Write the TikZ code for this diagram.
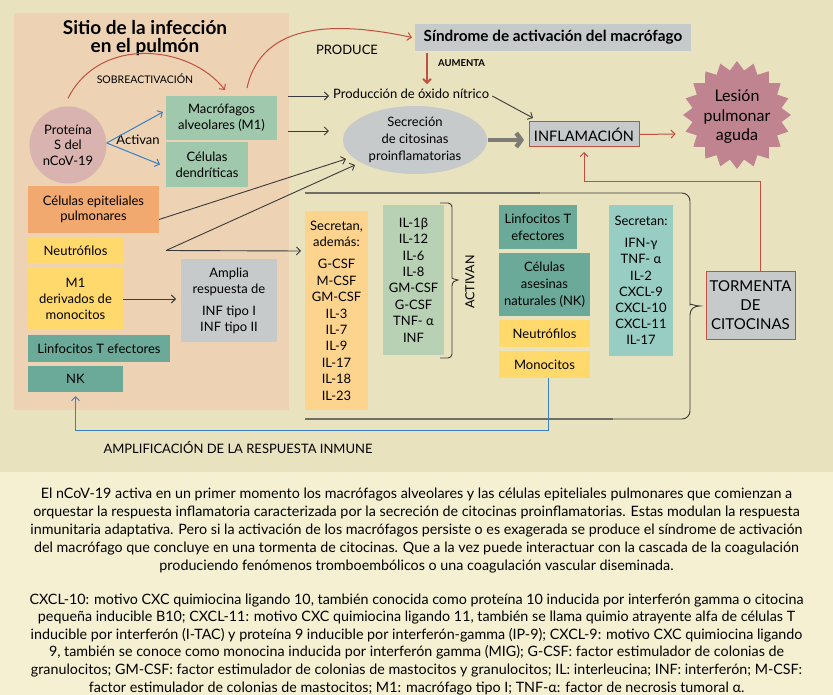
\documentclass[tikz,border=0pt]{standalone}
\usepackage{fontspec}
\setmainfont{Lato}
\usetikzlibrary{arrows.meta,shapes.geometric,calc}
\newcommand\fsz[2]{\fontsize{#1}{#2}\selectfont}
\definecolor{bgtop}{HTML}{E8E2BF}
\definecolor{bgbot}{HTML}{F5F0D1}
\definecolor{panelc}{HTML}{EDD3B3}
\definecolor{circc}{HTML}{D9B3AF}
\definecolor{greenc}{HTML}{9FC8AD}
\definecolor{orangec}{HTML}{F2A96F}
\definecolor{yellowc}{HTML}{FFD96B}
\definecolor{tealc}{HTML}{6BAA98}
\definecolor{grayc}{HTML}{C7CACA}
\definecolor{lorange}{HTML}{FDD48E}
\definecolor{lgreen}{HTML}{B8D0B4}
\definecolor{lteal}{HTML}{98CDC4}
\definecolor{starc}{HTML}{C08491}
\definecolor{redc}{HTML}{C0503F}
\definecolor{bluec}{HTML}{3B7FC4}
\definecolor{darkc}{HTML}{3A3A3A}
\definecolor{thickgray}{HTML}{6E6E66}
\begin{document}
\begin{tikzpicture}[x=1pt,y=-1pt,
  rect/.style={anchor=north west, inner sep=0pt, outer sep=0pt, align=center, font=\fsz{13}{16}},
  lbl/.style={inner sep=0pt, font=\fsz{13}{16}},
  tip/.style={-{Straight Barb[length=4pt,width=8pt]}},
  darr/.style={tip, darkc, line width=0.9pt},
  rarr/.style={tip, redc, line width=1pt},
  barr/.style={tip, bluec, line width=1pt}]
\useasboundingbox (0,0) rectangle (833,695);
\fill[bgtop] (0,0) rectangle (833,472);
\fill[bgbot] (0,472) rectangle (833,695);

% left panel
\node[rect, fill=panelc, minimum width=275, minimum height=397] (panel) at (14,13) {};
\node[font=\bfseries\fsz{19}{18.5}, align=center, inner sep=0pt] (title) at (145,38) {Sitio de la infección\\en el pulmón};
\node[circle, fill=circc, minimum size=77, inner sep=0pt, align=center, font=\fsz{13}{15.5}] (prot) at (68,145) {Proteína\\S del\\nCoV-19};
\node[rect, fill=greenc, minimum width=111, minimum height=44] (maf) at (166,96) {Macrófagos\\alveolares (M1)};
\node[rect, fill=greenc, minimum width=82, minimum height=45] (dend) at (166,142) {Células\\dendríticas};
\node[rect, fill=orangec, minimum width=131, minimum height=47, font=\fsz{13}{15.5}] (epi) at (28,186) {Células epiteliales\\pulmonares};
\node[rect, fill=yellowc, minimum width=95, minimum height=25] (neu1) at (28,238) {Neutrófilos};
\node[rect, fill=yellowc, minimum width=95, minimum height=62] (m1) at (28,268) {M1\\derivados de\\monocitos};
\node[rect, fill=tealc, minimum width=142, minimum height=27] (lin1) at (28,335) {Linfocitos T efectores};
\node[rect, fill=tealc, minimum width=95, minimum height=26] (nk) at (28,366) {NK};
\node[rect, fill=grayc, minimum width=96, minimum height=83] (amp) at (181,259) {Amplia\\respuesta de\\[6pt]INF tipo I\\INF tipo II};
\node[lbl, font=\fsz{10.5}{12}] (sobre) at (145,79) {SOBREACTIVACIÓN};
\node[lbl] (activan) at (138,140) {Activan};

% top right
\node[rect, fill=grayc, minimum width=276, minimum height=27, font=\bfseries\fsz{15.3}{16}] (sin) at (415,24) {Síndrome de activación del macrófago};
\node[lbl] (produce) at (347,50) {PRODUCE};
\node[lbl, anchor=west, font=\bfseries\fsz{9.5}{11}] (aumenta) at (438,63) {AUMENTA};
\node[anchor=base west, inner sep=1pt, font=\fsz{13}{16}] (oxi) at (332,99) {Producción de óxido nítrico};
\node[ellipse, fill=grayc, minimum width=144, minimum height=68, inner sep=0pt, align=center, font=\fsz{13}{17}] (ell) at (415,140) {Secreción\\de citosinas\\proinflamatorias};
\node[rect, fill=grayc, draw=redc, line width=1pt, minimum width=110, minimum height=25, font=\fsz{14.5}{16}] (infl) at (529,122) {INFLAMACIÓN};
\node[star, star points=20, star point ratio=1.2, fill=starc, minimum size=108, inner sep=0pt] (star) at (737,115) {};
\node[align=center, inner sep=0pt, font=\fsz{16}{19.5}] (lesion) at (737,117) {Lesión\\pulmonar\\aguda};

% cytokine area
\node[rect, fill=lorange, minimum width=63, minimum height=199, font=\fsz{13}{16.4}] (secr) at (305,211) {Secretan,\\además:\\[6pt]G-CSF\\M-CSF\\GM-CSF\\IL-3\\IL-7\\IL-9\\IL-17\\IL-18\\IL-23};
\node[rect, fill=lgreen, minimum width=61, minimum height=150, font=\fsz{13}{16.4}] (il) at (383,205) {IL-1β\\IL-12\\IL-6\\IL-8\\GM-CSF\\G-CSF\\TNF- α\\INF};
\node[rotate=90, inner sep=0pt, font=\fsz{12.5}{14}] (act) at (470,282) {ACTIVAN};
\node[rect, fill=tealc, minimum width=78, minimum height=44, font=\fsz{13}{17}] (lin2) at (499,205) {Linfocitos T\\efectores};
\node[rect, fill=tealc, minimum width=91, minimum height=63, font=\fsz{13}{17}] (nk2) at (499,253) {Células\\asesinas\\naturales (NK)};
\node[rect, fill=yellowc, minimum width=91, minimum height=27] (neu2) at (499,320) {Neutrófilos};
\node[rect, fill=yellowc, minimum width=91, minimum height=27] (mono) at (499,351) {Monocitos};
\node[rect, fill=lteal, minimum width=64, minimum height=151, font=\fsz{13}{16.2}] (sec2) at (609,205) {Secretan:\\[6pt]IFN-γ\\TNF- α\\IL-2\\CXCL-9\\CXCL-10\\CXCL-11\\IL-17};
\node[rect, fill=grayc, draw=redc, line width=1pt, minimum width=89, minimum height=67, font=\fsz{15}{19}] (torm) at (706,272) {TORMENTA\\DE\\CITOCINAS};
\node[lbl] (ampl) at (238,448) {AMPLIFICACIÓN DE LA RESPUESTA INMUNE};

% braces
\draw[darkc, line width=0.9pt, rounded corners=8pt] (305,193) -- (690,193) -- (690,297) [rounded corners=0pt] .. controls (690,303) and (694,306) .. (700,306) .. controls (694,306) and (690,309) .. (690,315) [rounded corners=8pt] -- (690,419) -- (305,419);
\draw[thickgray, line width=2.5pt] (305,193) -- (540,193);
\draw[thickgray, line width=2.5pt] (305,419) -- (613,419);
\draw[darkc, line width=0.9pt, rounded corners=4pt] (440,203) -- (452,203) -- (452,274) [rounded corners=0pt] .. controls (452,278) and (455,280) .. (458,280) .. controls (455,280) and (452,282) .. (452,286) [rounded corners=4pt] -- (452,358) -- (440,358);

% connectors
\draw[rarr] ([yshift=8pt]prot.north) .. controls (100,35) and (190,45) .. ($(maf.north west)+(59,-6)$);
\draw[rarr] ($(maf.north west)+(81,-8)$) .. controls (262,20) and (340,22) .. ($(sin.west)+(-3,0)$);
\draw[tip, redc, line width=2pt] ([xshift=12pt,yshift=-2pt]sin.south west) -- ([xshift=95pt,yshift=4pt]oxi.north west);
\draw[barr] ([yshift=2pt]prot.east) -- ($(maf.west)+(-3,-6)$);
\draw[barr] ([yshift=2pt]prot.east) -- ($(dend.west)+(-6,0)$);
\draw[darr] ([xshift=11pt]maf.north east) -- ([xshift=-3pt,yshift=3pt]oxi.base west);
\draw[darr] ([xshift=11pt,yshift=-35pt]maf.north east) -- ([xshift=-14pt,yshift=9pt]ell.west);
\draw[darr] ([xshift=2pt,yshift=3pt]oxi.base east) -- ([xshift=4pt,yshift=4pt]infl.north west);
\draw[-{Straight Barb[length=5pt,width=14pt]}, thickgray!90, line width=4.5pt] ([xshift=1pt]ell.east) -- ($(infl.west|-ell.east)+(-5,0)$);
\draw[rarr] ([xshift=1pt]infl.east) -- ($(star.west)+(-7,19)$);
\draw[rarr] ([xshift=10pt]torm.north) |- ($(infl.south west)+(55,35)$) -- ([xshift=55pt,yshift=-5pt]infl.south west);
\draw[darr] ([yshift=-10pt]epi.east) -- ($(ell.center)+(-69,19)$);
\draw[darr] ([xshift=43pt]neu1.east) -- ($(ell.center)+(-60,25)$);
\draw[darr] ([xshift=43pt]neu1.east) -- ($(secr.north west)+(-4,40)$);
\draw[darr] (m1.east) -- ($(amp.west)+(-5,-1.5)$);
\draw[barr] ([xshift=3.5pt]mono.south) |- ($(nk.south)+(0,38)$) -- ([yshift=-4pt]nk.south);

% bottom text (base anchor = baseline of last line)
\node[anchor=base, align=center, inner sep=0pt, font=\fsz{14.3}{17.8}] (para1) at (416.5,570) {El nCoV-19 activa en un primer momento los macrófagos alveolares y las células epiteliales pulmonares que comienzan a\\orquestar la respuesta inflamatoria caracterizada por la secreción de citocinas proinflamatorias. Estas modulan la respuesta\\inmunitaria adaptativa. Pero si la activación de los macrófagos persiste o es exagerada se produce el síndrome de activación\\del macrófago que concluye en una tormenta de citocinas. Que a la vez puede interactuar con la cascada de la coagulación\\produciendo fenómenos tromboembólicos o una coagulación vascular diseminada.};
\node[anchor=base, align=center, inner sep=0pt, font=\fsz{14.3}{17.6}] (para2) at (416.5,692) {CXCL-10: motivo CXC quimiocina ligando 10, también conocida como proteína 10 inducida por interferón gamma o citocina\\pequeña inducible B10; CXCL-11: motivo CXC quimiocina ligando 11, también se llama quimio atrayente alfa de células T\\inducible por interferón (I-TAC) y proteína 9 inducible por interferón-gamma (IP-9); CXCL-9: motivo CXC quimiocina ligando\\9, también se conoce como monocina inducida por interferón gamma (MIG); G-CSF: factor estimulador de colonias de\\granulocitos; GM-CSF: factor estimulador de colonias de mastocitos y granulocitos; IL: interleucina; INF: interferón; M-CSF:\\factor estimulador de colonias de mastocitos; M1: macrófago tipo I; TNF-α: factor de necrosis tumoral α.};
\end{tikzpicture}
\end{document}
